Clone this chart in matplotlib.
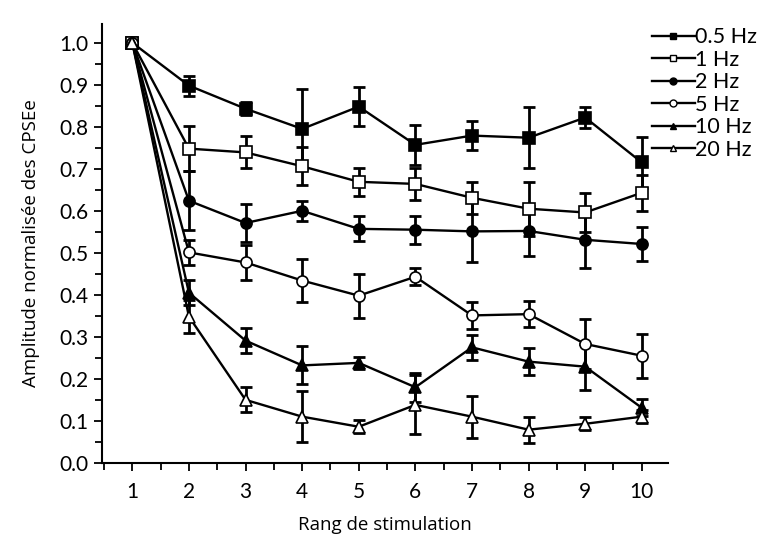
import numpy as np
import matplotlib
matplotlib.use("Agg")
import matplotlib.pyplot as plt
from matplotlib.ticker import MultipleLocator

# ---------------------------------------------------------------------------
# data (mean, error) per stimulation rank
# ---------------------------------------------------------------------------
rang = [1, 2, 3, 4, 5, 6, 7, 8, 9, 10]

hz05 = [1.0, 0.898, 0.843, 0.795, 0.848, 0.757, 0.779, 0.774, 0.822, 0.715]
hz05_err = [0.0, 0.024, 0.015, 0.095, 0.046, 0.047, 0.035, 0.072, 0.026, 0.06]

hz1 = [1.0, 0.748, 0.739, 0.706, 0.669, 0.664, 0.631, 0.605, 0.596, 0.643]
hz1_err = [0.0, 0.053, 0.038, 0.045, 0.033, 0.038, 0.038, 0.064, 0.047, 0.043]

hz2 = [1.0, 0.624, 0.571, 0.600, 0.557, 0.555, 0.551, 0.552, 0.531, 0.521]
hz2_err = [0.0, 0.07, 0.046, 0.024, 0.03, 0.033, 0.072, 0.06, 0.067, 0.041]

hz5 = [1.0, 0.501, 0.477, 0.434, 0.398, 0.443, 0.351, 0.354, 0.283, 0.255]
hz5_err = [0.0, 0.03, 0.042, 0.052, 0.052, 0.02, 0.032, 0.031, 0.06, 0.052]

hz10 = [1.0, 0.405, 0.291, 0.232, 0.238, 0.180, 0.275, 0.241, 0.229, 0.131]
hz10_err = [0.0, 0.03, 0.03, 0.045, 0.015, 0.034, 0.03, 0.033, 0.055, 0.02]

hz20 = [1.0, 0.348, 0.150, 0.110, 0.086, 0.138, 0.110, 0.079, 0.093, 0.110]
hz20_err = [0.0, 0.04, 0.03, 0.06, 0.015, 0.07, 0.05, 0.031, 0.015, 0.015]

labels = ["0.5 Hz", "1 Hz", "2 Hz", "5 Hz", "10 Hz", "20 Hz"]
series = [hz05, hz1, hz2, hz5, hz10, hz20]
errors = [hz05_err, hz1_err, hz2_err, hz5_err, hz10_err, hz20_err]
markers = ["s", "s", "o", "o", "^", "^"]
fills = ["black", "white", "black", "white", "black", "white"]

fig = plt.figure(figsize=(7.65, 5.42), dpi=100)
ax = fig.add_axes([0.133, 0.146, 0.740, 0.810])

handles = []
for y, e, m, fc, lab in zip(series, errors, markers, fills, labels):
    ax.errorbar(rang, y, yerr=e, fmt="none", ecolor="black", elinewidth=2,
                capsize=4, capthick=2, zorder=2)
    ax.plot(rang, y, color="black", lw=1.7, marker=m,
            markersize=9 if m == "^" else 8,
            markerfacecolor=fc, markeredgecolor="black", markeredgewidth=1.2,
            zorder=3)
    h, = ax.plot([], [], color="black", lw=1.7, marker=m, markersize=5,
                 markerfacecolor=fc, markeredgecolor="black",
                 markeredgewidth=1.0, label=lab)
    handles.append(h)

ax.set_xlim(0.46, 10.46)
ax.set_ylim(0, 1.045)
ax.spines["top"].set_visible(False)
ax.spines["right"].set_visible(False)
for s in ("left", "bottom"):
    ax.spines[s].set_linewidth(1.5)

ax.xaxis.set_major_locator(MultipleLocator(1))
ax.xaxis.set_minor_locator(MultipleLocator(0.5))
ax.yaxis.set_major_locator(MultipleLocator(0.1))
ax.yaxis.set_minor_locator(MultipleLocator(0.05))
ax.tick_params(which="both", direction="out", width=1.3, labelsize=15)
ax.tick_params(which="major", length=6)
ax.tick_params(which="minor", length=5)
ax.tick_params(axis="x", pad=8)
ax.set_xticks(rang)
ax.set_xticklabels([str(r) for r in rang], family="Lato")
yt = np.round(np.arange(0, 1.01, 0.1), 1)
ax.set_yticks(yt)
ax.set_yticklabels([f"{v:.1f}" for v in yt], family="Lato")

ax.set_xlabel("Rang de stimulation", family="Open Sans", fontsize=13.5, labelpad=10)
ax.set_ylabel("Amplitude normalisée des CPSEe", family="Open Sans", fontsize=13.5,
              labelpad=14)

fig.legend(handles=handles, loc="upper left", bbox_to_anchor=(0.852, 0.950),
           frameon=False, handlelength=2.0, handletextpad=0.0,
           labelspacing=0.12, borderaxespad=0, borderpad=0,
           prop={"family": "Lato", "size": 15.5})

fig.savefig("out.png", dpi=100)
